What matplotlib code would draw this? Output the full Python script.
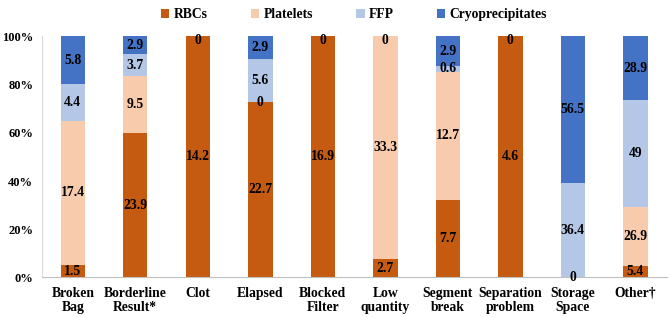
import matplotlib

matplotlib.use("Agg")
import matplotlib.pyplot as plt
import numpy as np

plt.rcParams["font.family"] = ["Liberation Serif", "DejaVu Serif"]
plt.rcParams["font.weight"] = "bold"

categories = ["Broken\nBag", "Borderline\nResult*", "Clot", "Elapsed", "Blocked\nFilter",
              "Low\nquantity", "Segment\nbreak", "Separation\nproblem", "Storage\nSpace", "Other\u2020"]
series = ["RBCs", "Platelets", "FFP", "Cryoprecipitates"]
colors = ["#C55A11", "#F8CBAD", "#B4C7E7", "#4472C4"]

# None = zero, no data label shown
rbcs = [1.5, 23.9, 14.2, 22.7, 16.9, 2.7, 7.7, 4.6, 0, 5.4]
platelets = [17.4, 9.5, 0, 0, 0, 33.3, 12.7, 0, None, 26.9]
ffp = [4.4, 3.7, None, 5.6, None, 0, 0.6, None, 36.4, 49]
cryo = [5.8, 2.9, None, 2.9, None, None, 2.9, None, 56.5, 28.9]

data = [rbcs, platelets, ffp, cryo]
vals = np.array([[0 if v is None else v for v in s] for s in data])
pct = vals / vals.sum(axis=0) * 100

fig, ax = plt.subplots(figsize=(6.7, 3.17), dpi=100)
fig.subplots_adjust(left=0.062, right=0.995, top=0.885, bottom=0.125)

x = np.arange(len(categories))
bottom = np.zeros(len(categories))
for i, (name, col) in enumerate(zip(series, colors)):
    ax.bar(x, pct[i], bottom=bottom, width=0.39, color=col, label=name)
    for xi in x:
        v = data[i][xi]
        if v is None:
            continue
        yc = bottom[xi] + pct[i][xi] / 2
        if pct[i][xi] == 0:
            yc = min(bottom[xi], 98.5)
        ax.text(xi, yc, f"{v:g}", ha="center", va="center", fontsize=9.8,
                fontweight="bold", color="black")
    bottom += pct[i]

ax.set_ylim(0, 100)
ax.set_xlim(-0.5, len(categories) - 0.5)
ax.set_yticks(range(0, 101, 20))
ax.set_yticklabels([f"{t}%" for t in range(0, 101, 20)], fontsize=9, fontweight="bold")
ax.set_xticks(x)
ax.set_xticklabels(categories, fontsize=9.8, fontweight="bold", linespacing=1.05)
ax.tick_params(axis="y", length=0, pad=6)
ax.tick_params(axis="x", length=0, pad=7)
ax.spines["top"].set_visible(False)
ax.spines["right"].set_visible(False)
ax.spines["left"].set_color("#D9D9D9")
ax.spines["bottom"].set_color("#BFBFBF")

ax.legend(loc="lower center", bbox_to_anchor=(0.5, 1.04), ncol=4, frameon=False,
          fontsize=9.8, handlelength=0.6, handleheight=0.6, columnspacing=3.2,
          handletextpad=0.3, borderaxespad=0)

fig.savefig("out.png", dpi=100)
